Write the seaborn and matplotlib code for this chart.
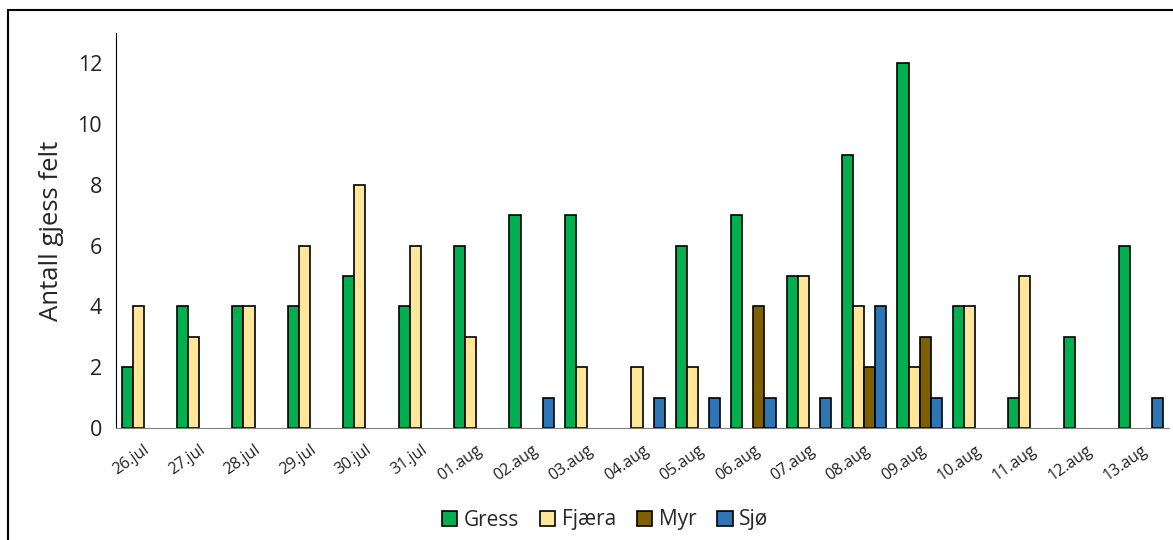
import pandas as pd
import seaborn as sns
import matplotlib
matplotlib.use("Agg")
from matplotlib import pyplot as plt
from matplotlib.patches import Rectangle, Patch
from matplotlib.ticker import FixedLocator

datoer = ["26.jul", "27.jul", "28.jul", "29.jul", "30.jul", "31.jul", "01.aug",
          "02.aug", "03.aug", "04.aug", "05.aug", "06.aug", "07.aug", "08.aug",
          "09.aug", "10.aug", "11.aug", "12.aug", "13.aug"]
gress = [2, 4, 4, 4, 5, 4, 6, 7, 7, 0, 6, 7, 5, 9, 12, 4, 1, 3, 6]
fjaera = [4, 3, 4, 6, 8, 6, 3, 0, 2, 2, 2, 0, 5, 4, 2, 4, 5, 0, 0]
myr = [0, 0, 0, 0, 0, 0, 0, 0, 0, 0, 0, 4, 0, 2, 3, 0, 0, 0, 0]
sjo = [0, 0, 0, 0, 0, 0, 0, 1, 0, 1, 1, 1, 1, 4, 1, 0, 0, 0, 1]
serier = ["Gress", "Fjæra", "Myr", "Sjø"]
farger = ["#00B050", "#FFE699", "#7F6000", "#2E75B6"]

df = pd.DataFrame({"Dato": datoer, "Gress": gress, "Fjæra": fjaera, "Myr": myr, "Sjø": sjo})
lang = df.melt(id_vars="Dato", var_name="Type", value_name="Antall")

sns.set_style("white")
plt.rcParams["font.family"] = ["Open Sans", "DejaVu Sans"]

fig = plt.figure(figsize=(11.73, 5.4), dpi=100)
ax = fig.add_axes([116 / 1173, 112 / 540, 1053 / 1173, 395 / 540])

sns.barplot(data=lang, x="Dato", y="Antall", hue="Type", hue_order=serier,
            palette=farger, saturation=1, width=0.8, edgecolor="black",
            linewidth=1.2, errorbar=None, legend=False, ax=ax)

# skjul null-søyler
for p in ax.patches:
    if p.get_height() == 0:
        p.set_visible(False)

ax.set_ylim(0, 13)
ax.set_xlim(-0.5, len(datoer) - 0.5)
ax.set_yticks(range(0, 13, 2))
ax.set_ylabel("Antall gjess felt", fontsize=18.5, labelpad=10)
ax.set_xlabel("")
ax.tick_params(axis="y", direction="in", length=6, labelsize=15.5, pad=10,
               color="#404040", labelcolor="#222222")
ax.set_xticks(range(len(datoer)))
ax.set_xticklabels(datoer, rotation=35, ha="right", rotation_mode="anchor", fontsize=11.5)
ax.tick_params(axis="x", which="major", length=0, pad=10, labelcolor="#222222")
ax.xaxis.set_minor_locator(FixedLocator([i - 0.5 for i in range(len(datoer) + 1)]))
ax.tick_params(axis="x", which="minor", direction="inout", length=10, width=1, color="#404040")

for s in ["top", "right"]:
    ax.spines[s].set_visible(False)
ax.spines["left"].set_color("black")
ax.spines["bottom"].set_color("#808080")

handles = [Patch(facecolor=c, edgecolor="black", linewidth=1.2) for c in farger]
fig.legend(handles, serier, loc="center", bbox_to_anchor=(605 / 1173, 20 / 540),
           ncol=4, frameon=False, fontsize=15,
           handlelength=0.75, handleheight=0.75, handletextpad=0.3, columnspacing=1.0)

fig.patches.append(Rectangle((8 / 1173, -0.05), 1.1, (530 / 540) + 0.05,
                             transform=fig.transFigure, fill=False,
                             edgecolor="black", linewidth=1.5))

fig.savefig("out.png", dpi=100)
